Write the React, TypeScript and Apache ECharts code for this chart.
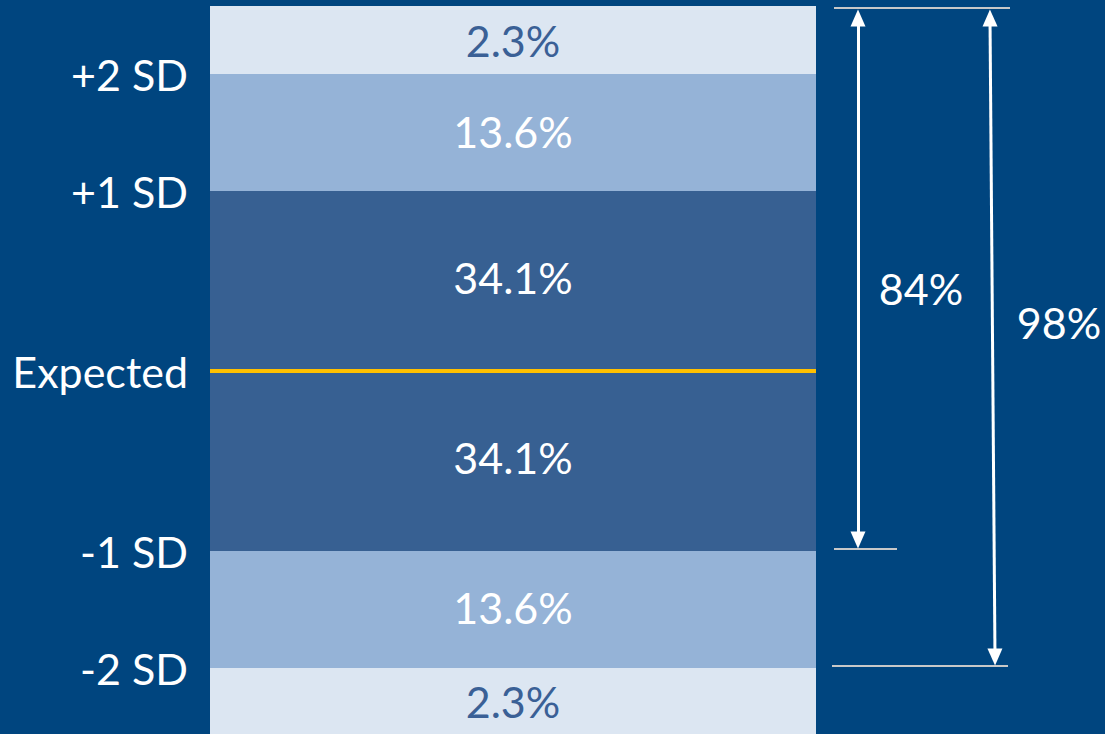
import React, { useEffect, useRef } from "react";
import * as echarts from "echarts";

// Bands from bottom to top (visual band sizes as drawn in the reference, and their labels)
const bandSizes = [66, 117, 180, 180, 117, 68];
const bandLabels = ["2.3%", "13.6%", "34.1%", "34.1%", "13.6%", "2.3%"];
const bandColors = ["#DCE6F2", "#95B3D7", "#376092", "#376092", "#95B3D7", "#DCE6F2"];
const bandTextColors = ["#3A6096", "#FFFFFF", "#FFFFFF", "#FFFFFF", "#FFFFFF", "#3A6096"];
const bandLabelShift = [0, -2, -4, -4, -1, 0];

// Boundary tick labels (cumulative boundaries)
const sdLabels = ["-2 SD", "-1 SD", "Expected", "+1 SD", "+2 SD"];
const expectedLabel = "Expected";

// Annotation arrows (overlay grid: x in px, y in band units; endpoints are arrowhead centres)
const arrows = [
  { x1: 858, y1: 716, x2: 858, y2: 194 },
  { x1: 990, y1: 716, x2: 995, y2: 77 },
];
const refLines = [
  { x1: 834, x2: 1010, y: 726 },
  { x1: 834, x2: 897, y: 185 },
  { x1: 832, x2: 1008, y: 68 },
];
const arrowLabels: [number, number, string][] = [
  [921, 446, "84%"],
  [1059, 412, "98%"],
];

const TOTAL = bandSizes.reduce((a, b) => a + b, 0);
const boundaries: number[] = [];
{
  let acc = 0;
  for (let i = 0; i < bandSizes.length - 1; i++) {
    acc += bandSizes[i];
    boundaries.push(acc);
  }
}

const FONT = "Lato, 'Open Sans', sans-serif";
const FS = 43;
const HEAD: [number, number] = [15, 17];

export default function App() {
  const ref = useRef<HTMLDivElement>(null);
  useEffect(() => {
    document.body.style.margin = "0";
    if (!ref.current) return;
    const chart = echarts.init(ref.current, undefined, { renderer: "svg" });
    const labelMap: Record<number, string> = {};
    boundaries.forEach((b, i) => (labelMap[b] = sdLabels[i]));
    const expectedValue = boundaries[sdLabels.indexOf(expectedLabel)];

    const barSeries = bandSizes.map((v, i) => ({
      type: "bar",
      stack: "total",
      xAxisIndex: 0,
      yAxisIndex: 0,
      barWidth: "100%",
      data: [v],
      itemStyle: { color: bandColors[i] },
      label: {
        show: true,
        position: "inside",
        formatter: bandLabels[i],
        color: bandTextColors[i],
        fontSize: FS,
        fontFamily: FONT,
        offset: [0, bandLabelShift[i]],
      },
      silent: true,
      z: 2,
      ...(i === bandSizes.length - 1
        ? {
            markLine: {
              silent: true,
              symbol: "none",
              label: { show: false },
              lineStyle: { color: "#FFC000", width: 4, type: "solid" },
              data: [{ yAxis: expectedValue }],
              z: 5,
            },
          }
        : {}),
    }));

    chart.setOption({
      animation: false,
      backgroundColor: "#00457F",
      grid: [
        { left: 210, width: 606, top: 6, bottom: 0 },
        { left: 0, right: 0, top: 6, bottom: 0 },
      ],
      xAxis: [
        { type: "category", data: [""], gridIndex: 0, show: false },
        { type: "value", gridIndex: 1, min: 0, max: 1105, show: false },
      ],
      yAxis: [
        {
          type: "value",
          gridIndex: 0,
          min: 0,
          max: TOTAL,
          axisLine: { show: false },
          axisTick: { show: false },
          splitLine: { show: false },
          axisLabel: {
            show: true,
            customValues: boundaries,
            formatter: (v: number) => labelMap[v] ?? "",
            color: "#FFFFFF",
            fontSize: FS,
            fontFamily: FONT,
            margin: 22,
          },
        },
        { type: "value", gridIndex: 1, min: 0, max: TOTAL, show: false },
      ],
      series: [
        ...barSeries,
        {
          type: "line",
          xAxisIndex: 1,
          yAxisIndex: 1,
          data: [],
          silent: true,
          markLine: {
            silent: true,
            animation: false,
            symbol: ["triangle", "triangle"],
            symbolSize: HEAD,
            label: { show: false },
            data: [
              ...refLines.map((r) => [
                { coord: [r.x1, r.y], symbol: "none", lineStyle: { color: "#C8C8C8", width: 2, type: "solid" } },
                { coord: [r.x2, r.y], symbol: "none" },
              ]),
              ...arrows.map((a) => [
                {
                  coord: [a.x1, a.y1],
                  symbol: "triangle",
                  symbolSize: HEAD,
                  lineStyle: { color: "#FFFFFF", width: 3, type: "solid" },
                },
                { coord: [a.x2, a.y2], symbol: "triangle", symbolSize: HEAD },
              ]),
            ],
          },
        },
        {
          type: "scatter",
          xAxisIndex: 1,
          yAxisIndex: 1,
          symbolSize: 0,
          silent: true,
          itemStyle: { opacity: 1 },
          data: arrowLabels.map((d) => ({ value: [d[0], d[1]], name: d[2] })),
          label: {
            show: true,
            position: "inside",
            formatter: (p: any) => p.name,
            color: "#FFFFFF",
            opacity: 1,
            fontSize: FS,
            fontFamily: FONT,
          },
        },
      ],
    });
    return () => chart.dispose();
  }, []);
  return <div ref={ref} style={{ width: 1105, height: 734 }} />;
}
